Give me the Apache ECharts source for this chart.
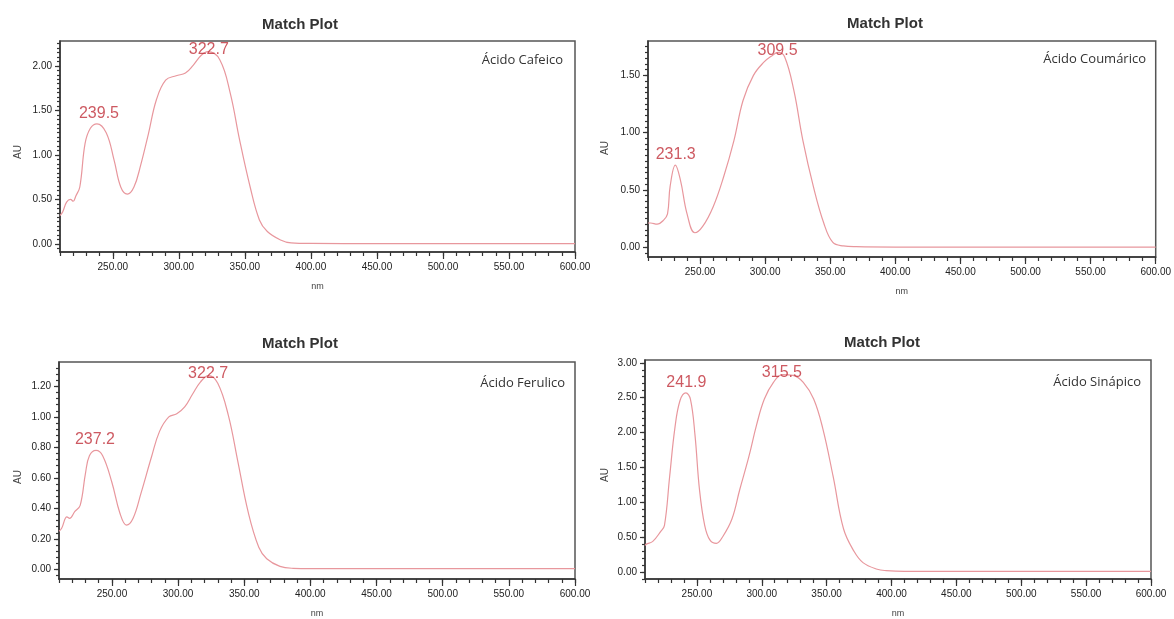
<!DOCTYPE html>
<html>
<head>
<meta charset="utf-8">
<script src="https://cdn.jsdelivr.net/npm/echarts@6/dist/echarts.min.js"></script>
<style>
html, body { margin: 0; padding: 0; background: #fff; }
#main { width: 1174px; height: 619px; }
</style>
</head>
<body>
<div id="main"></div>
<script>
// wavelength tick labels (nm)
const xTicks = [250, 300, 350, 400, 450, 500, 550, 600];

// Ácido Cafeico
const cafeicoNm = [210, 212, 215, 218, 220, 222, 225, 229, 233, 238, 245, 251, 256, 261, 266, 271, 277, 283, 290, 298, 305, 311, 317, 322, 331, 339, 346, 354, 361, 367, 377, 385, 400, 450, 500, 550, 600];
const cafeicoAu = [0.32, 0.36, 0.47, 0.50, 0.48, 0.54, 0.64, 1.13, 1.30, 1.35, 1.25, 0.94, 0.64, 0.56, 0.64, 0.88, 1.24, 1.62, 1.84, 1.89, 1.92, 2.01, 2.12, 2.16, 2.07, 1.69, 1.17, 0.64, 0.27, 0.14, 0.045, 0.012, 0.006, 0.005, 0.005, 0.005, 0.005];
const cafeicoPeakNm = [239.5, 322.7];
const cafeicoPeakAu = [1.35, 2.16];
const cafeicoYTicks = [0, 0.5, 1.0, 1.5, 2.0];

// Ácido Coumárico
const coumaricoNm = [210, 212, 217, 222, 225, 227, 231, 235, 240, 246, 252, 260, 268, 276, 283, 291, 299, 305, 310, 315, 322, 329, 337, 345, 352, 360, 370, 400, 450, 500, 550, 600];
const coumaricoAu = [0.21, 0.21, 0.20, 0.235, 0.29, 0.53, 0.715, 0.58, 0.29, 0.125, 0.18, 0.35, 0.61, 0.93, 1.28, 1.50, 1.615, 1.67, 1.70, 1.66, 1.37, 0.93, 0.53, 0.21, 0.04, 0.01, 0.003, 0, 0, 0, 0, 0];
const coumaricoPeakNm = [231.3, 309.5];
const coumaricoPeakAu = [0.715, 1.70];
const coumaricoYTicks = [0, 0.5, 1.0, 1.5];

// Ácido Ferulico
const ferulicoNm = [210, 212, 216, 218, 222, 226, 230, 233, 238, 243, 250, 256, 261, 266, 272, 280, 286, 293, 299, 305, 311, 317, 323, 330, 338, 345, 353, 361, 367, 377, 387, 400, 450, 500, 550, 600];
const ferulicoAu = [0.25, 0.27, 0.345, 0.335, 0.38, 0.42, 0.63, 0.745, 0.78, 0.745, 0.57, 0.37, 0.29, 0.335, 0.50, 0.74, 0.905, 1.00, 1.02, 1.065, 1.15, 1.23, 1.27, 1.22, 1.01, 0.715, 0.375, 0.145, 0.07, 0.02, 0.007, 0.005, 0.005, 0.005, 0.005, 0.005];
const ferulicoPeakNm = [237.2, 322.7];
const ferulicoPeakAu = [0.78, 1.27];
const ferulicoYTicks = [0, 0.2, 0.4, 0.6, 0.8, 1.0, 1.2];

// Ácido Sinápico
const sinapicoNm = [210, 211, 216, 222, 225, 229, 233, 237, 241.5, 245, 248.5, 252, 256, 260, 265, 270, 277, 283, 290, 296, 302, 309, 316, 324, 332, 340, 347, 355, 363, 371, 378, 389, 396, 410, 450, 500, 550, 600];
const sinapicoAu = [0.38, 0.40, 0.44, 0.58, 0.67, 1.37, 2.06, 2.46, 2.57, 2.48, 1.97, 1.18, 0.67, 0.46, 0.41, 0.51, 0.76, 1.18, 1.65, 2.11, 2.48, 2.72, 2.83, 2.82, 2.72, 2.48, 2.06, 1.37, 0.62, 0.30, 0.135, 0.04, 0.02, 0.01, 0.01, 0.01, 0.01, 0.01];
const sinapicoPeakNm = [241.9, 315.5];
const sinapicoPeakAu = [2.57, 2.83];
const sinapicoYTicks = [0, 0.5, 1.0, 1.5, 2.0, 2.5, 3.0];

function steps(from, to, step) {
  const out = [];
  for (let v = from; v <= to + step / 1000; v += step) out.push(Math.round(v * 1000) / 1000);
  return out;
}

const panels = [
  { name: 'Ácido Cafeico', nm: cafeicoNm, au: cafeicoAu, pNm: cafeicoPeakNm, pAu: cafeicoPeakAu, yTicks: cafeicoYTicks,
    yMin: -0.09, yMax: 2.28, yMinor: steps(-0.05, 2.25, 0.05),
    grid: { left: 60, top: 41, width: 515, height: 211 }, titlePos: [300, 25], namePos: [563, 60], auPos: [18, 152] },
  { name: 'Ácido Coumárico', nm: coumaricoNm, au: coumaricoAu, pNm: coumaricoPeakNm, pAu: coumaricoPeakAu, yTicks: coumaricoYTicks,
    yMin: -0.087, yMax: 1.80, yMinor: steps(-0.05, 1.75, 0.05),
    grid: { left: 648, top: 41, width: 508, height: 216 }, titlePos: [885, 24], namePos: [1146, 59], auPos: [605, 148] },
  { name: 'Ácido Ferulico', nm: ferulicoNm, au: ferulicoAu, pNm: ferulicoPeakNm, pAu: ferulicoPeakAu, yTicks: ferulicoYTicks,
    yMin: -0.063, yMax: 1.36, yMinor: steps(-0.04, 1.32, 0.04),
    grid: { left: 59, top: 362, width: 516, height: 224 }, titlePos: [300, 344], namePos: [565, 383], auPos: [18, 477] },
  { name: 'Ácido Sinápico', nm: sinapicoNm, au: sinapicoAu, pNm: sinapicoPeakNm, pAu: sinapicoPeakAu, yTicks: sinapicoYTicks,
    yMin: -0.1, yMax: 3.04, yMinor: steps(-0.1, 3.0, 0.1),
    grid: { left: 645, top: 360, width: 506, height: 225 }, titlePos: [882, 343], namePos: [1141, 382], auPos: [605, 475] }
];

const xMinor = steps(210, 600, 10);
const axisColor = '#333';
const lineColor = '#e8979d';
const peakColor = '#c0303a';

const grids = [], xAxes = [], yAxes = [], series = [], graphics = [];

panels.forEach((p, i) => {
  grids.push(Object.assign({ show: true, borderColor: '#555', borderWidth: 1.5 }, p.grid));

  xAxes.push({
    type: 'value', gridIndex: i, position: 'bottom', min: 210, max: 600,
    name: 'nm', nameLocation: 'middle', nameGap: 30,
    nameTextStyle: { fontSize: 9, color: '#444', fontFamily: 'Liberation Sans' },
    axisLine: { show: true, onZero: false, lineStyle: { color: axisColor, width: 1.5 } },
    axisTick: { show: true, length: 4, customValues: xMinor, lineStyle: { color: axisColor, width: 1.2 } },
    axisLabel: { customValues: xTicks, formatter: v => v.toFixed(2), fontSize: 10, color: '#222', margin: 10, fontFamily: 'Liberation Sans' },
    splitLine: { show: false }
  });
  xAxes.push({
    type: 'value', gridIndex: i, position: 'bottom', min: 210, max: 600,
    axisLine: { show: false, onZero: false },
    axisTick: { show: true, length: 7, customValues: xTicks, lineStyle: { color: axisColor, width: 1.2 } },
    axisLabel: { show: false },
    splitLine: { show: false }
  });

  yAxes.push({
    type: 'value', gridIndex: i, position: 'left', min: p.yMin, max: p.yMax,
    axisLine: { show: true, onZero: false, lineStyle: { color: axisColor, width: 1.5 } },
    axisTick: { show: true, length: 3, customValues: p.yMinor, lineStyle: { color: axisColor, width: 1.2 } },
    axisLabel: { customValues: p.yTicks, formatter: v => v.toFixed(2), fontSize: 10, color: '#222', margin: 8, fontFamily: 'Liberation Sans' },
    splitLine: { show: false }
  });
  yAxes.push({
    type: 'value', gridIndex: i, position: 'left', min: p.yMin, max: p.yMax,
    axisLine: { show: false, onZero: false },
    axisTick: { show: true, length: 5, customValues: p.yTicks, lineStyle: { color: axisColor, width: 1.2 } },
    axisLabel: { show: false },
    splitLine: { show: false }
  });

  series.push({
    type: 'line', xAxisIndex: 2 * i, yAxisIndex: 2 * i,
    data: p.nm.map((x, k) => [x, p.au[k]]),
    showSymbol: false, smooth: 0.4,
    lineStyle: { color: lineColor, width: 1.2 },
    silent: true, z: 2
  });

  const top = Math.max.apply(null, p.pAu);
  series.push({
    type: 'scatter', xAxisIndex: 2 * i, yAxisIndex: 2 * i,
    symbolSize: 1, itemStyle: { color: 'rgba(0,0,0,0)' },
    data: p.pNm.map((x, k) => p.pAu[k] === top
      ? { value: [x, p.pAu[k]], label: { position: 'inside', offset: [0, -2] } }
      : { value: [x, p.pAu[k]] }),
    label: {
      show: true, position: 'top', distance: 2,
      formatter: d => d.value[0].toFixed(1),
      fontSize: 16, color: peakColor, fontFamily: 'Liberation Sans'
    },
    z: 3
  });

  graphics.push({
    type: 'text', x: p.titlePos[0], y: p.titlePos[1],
    style: { text: 'Match Plot', font: 'bold 15px "Liberation Sans"', fill: '#333', align: 'center', verticalAlign: 'middle' }
  });
  graphics.push({
    type: 'text', x: p.namePos[0], y: p.namePos[1],
    style: { text: p.name, font: '13px "Open Sans"', fill: '#333', align: 'right', verticalAlign: 'middle' }
  });
  graphics.push({
    type: 'text', x: p.auPos[0], y: p.auPos[1], rotation: Math.PI / 2,
    style: { text: 'AU', font: '10px "Liberation Sans"', fill: '#444', align: 'center', verticalAlign: 'middle' }
  });
});

const myChart = echarts.init(document.getElementById('main'));
myChart.setOption({
  animation: false,
  backgroundColor: '#fff',
  grid: grids,
  xAxis: xAxes,
  yAxis: yAxes,
  series: series,
  graphic: graphics
});
</script>
</body>
</html>
